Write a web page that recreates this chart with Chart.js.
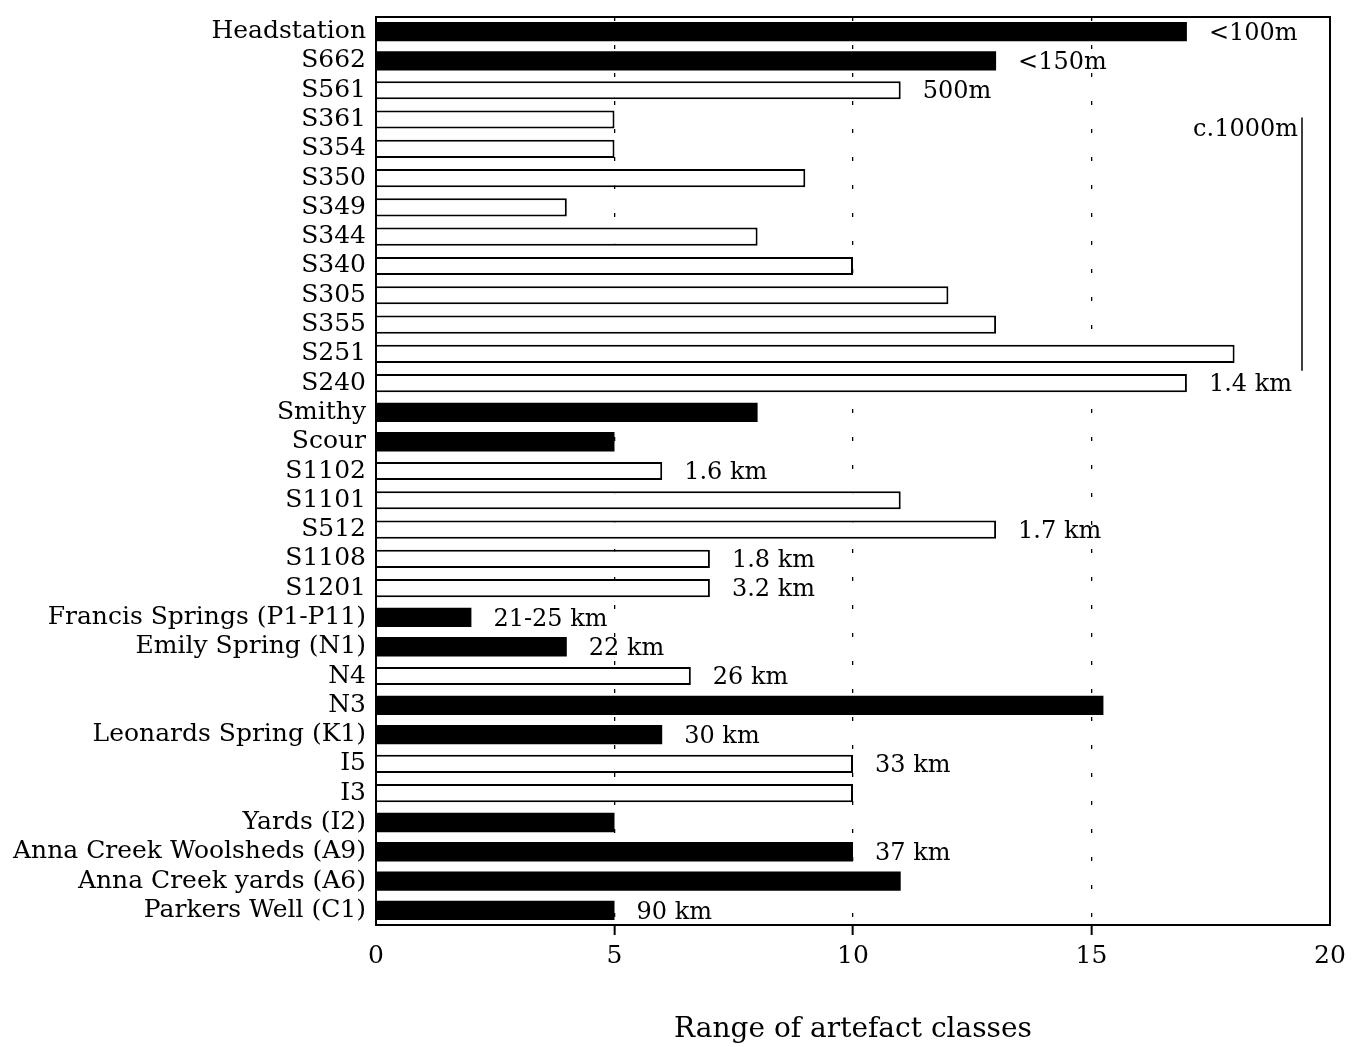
<!DOCTYPE html>
<html>
<head>
<meta charset="utf-8">
<script src="https://cdn.jsdelivr.net/npm/chart.js@4.4.1/dist/chart.umd.min.js"></script>
<style>
    html, body { margin: 0; padding: 0; background: #fff; }
    #wrap { width: 1352px; height: 1047px; }
</style>
</head>
<body>
<div id="wrap"><canvas id="rangeChart"></canvas></div>
<script>
// sites, top to bottom
const categories = [
    'Headstation', 'S662', 'S561', 'S361', 'S354', 'S350', 'S349', 'S344', 'S340',
    'S305', 'S355', 'S251', 'S240', 'Smithy', 'Scour', 'S1102', 'S1101', 'S512',
    'S1108', 'S1201', 'Francis Springs (P1-P11)', 'Emily Spring (N1)', 'N4', 'N3',
    'Leonards Spring (K1)', 'I5', 'I3', 'Yards (I2)', 'Anna Creek Woolsheds (A9)',
    'Anna Creek yards (A6)', 'Parkers Well (C1)'
];
// black bars
const solidValues = [
    17, 13, null, null, null, null, null, null, null,
    null, null, null, null, 8, 5, null, null, null,
    null, null, 2, 4, null, 15.25,
    6, null, null, 5, 10,
    11, 5
];
// outlined bars
const openValues = [
    null, null, 11, 5, 5, 9, 4, 8, 10,
    12, 13, 18, 17, null, null, 6, 11, 13,
    7, 7, null, null, 6.6, null,
    null, 10, 10, null, null,
    null, null
];
// distance notes beside the bars
const distances = [
    '<100m', '<150m', '500m', '', '', '', '', '', '',
    '', '', '', '1.4 km', '', '', '1.6 km', '', '1.7 km',
    '1.8 km', '3.2 km', '21-25 km', '22 km', '26 km', '',
    '30 km', '33 km', '', '', '37 km',
    '', '90 km'
];
const groupLabel = 'c.1000m';
const groupFrom = 'S361';
const groupTo = 'S251';
const xTicks = [0, 5, 10, 15, 20];
const xTitle = 'Range of artefact classes';

const FONT = '"DejaVu Serif", "Liberation Serif", serif';

const notesPlugin = {
    id: 'notes',
    afterDatasetsDraw(chart) {
        const ctx = chart.ctx;
        const xs = chart.scales.x;
        const ys = chart.scales.y;
        const area = chart.chartArea;
        ctx.save();
        ctx.fillStyle = '#000';
        ctx.strokeStyle = '#000';
        ctx.font = '24px ' + FONT;
        ctx.textBaseline = 'middle';
        ctx.textAlign = 'left';
        distances.forEach((txt, i) => {
            if (!txt) return;
            const v = solidValues[i] !== null ? solidValues[i] : openValues[i];
            ctx.fillText(txt, xs.getPixelForValue(v) + 22, ys.getPixelForValue(i) + 2);
        });

        // bracket for the c.1000m group
        const y1 = ys.getPixelForValue(categories.indexOf(groupFrom)) - 2;
        const y2 = ys.getPixelForValue(categories.indexOf(groupTo)) + 17;
        const bx = area.right - 28;
        ctx.lineWidth = 1.5;
        ctx.beginPath();
        ctx.moveTo(bx, y1);
        ctx.lineTo(bx, y2);
        ctx.stroke();
        ctx.textAlign = 'right';
        ctx.fillText(groupLabel, bx - 4, y1 + 12);

        // box round the plot
        ctx.lineWidth = 2;
        ctx.strokeRect(area.left, area.top, area.right - area.left, area.bottom - area.top);
        ctx.restore();
    }
};

const ctx = document.getElementById('rangeChart').getContext('2d');
new Chart(ctx, {
    type: 'bar',
    data: {
        labels: categories,
        datasets: [{
            label: 'solid',
            data: solidValues,
            backgroundColor: '#000',
            borderColor: '#000',
            borderWidth: 0,
            grouped: false,
            barPercentage: 0.66,
            categoryPercentage: 1
        }, {
            label: 'open',
            data: openValues,
            backgroundColor: '#fff',
            borderColor: '#000',
            borderWidth: 2,
            grouped: false,
            barPercentage: 0.62,
            categoryPercentage: 1
        }]
    },
    options: {
        indexAxis: 'y',
        responsive: true,
        maintainAspectRatio: false,
        animation: false,
        layout: { padding: { top: 7, right: 22, bottom: 0, left: 0 } },
        plugins: {
            legend: { display: false },
            tooltip: { enabled: false }
        },
        scales: {
            x: {
                min: xTicks[0],
                max: xTicks[xTicks.length - 1],
                afterBuildTicks: (scale) => { scale.ticks = xTicks.map(v => ({ value: v })); },
                afterFit: (scale) => { scale.height = 122; },
                ticks: {
                    color: '#000',
                    padding: 6,
                    font: { family: FONT, size: 25 }
                },
                grid: {
                    color: (c) => (c.tick && (c.tick.value === 0 || c.tick.value === 20)) ? 'rgba(0,0,0,0)' : '#000',
                    lineWidth: 1.3,
                    tickLength: 10,
                    tickWidth: 2,
                    tickBorderDash: []
                },
                border: { display: false, dash: [4, 24] },
                title: {
                    display: true,
                    text: xTitle,
                    color: '#000',
                    font: { family: FONT, size: 28 },
                    padding: { top: 0, bottom: 0 }
                }
            },
            y: {
                afterFit: (scale) => { scale.width = 376; },
                grid: { display: false },
                border: { display: false },
                ticks: {
                    color: '#000',
                    padding: 2,
                    autoSkip: false,
                    font: { family: FONT, size: 25 }
                }
            }
        }
    },
    plugins: [notesPlugin]
});
</script>
</body>
</html>
